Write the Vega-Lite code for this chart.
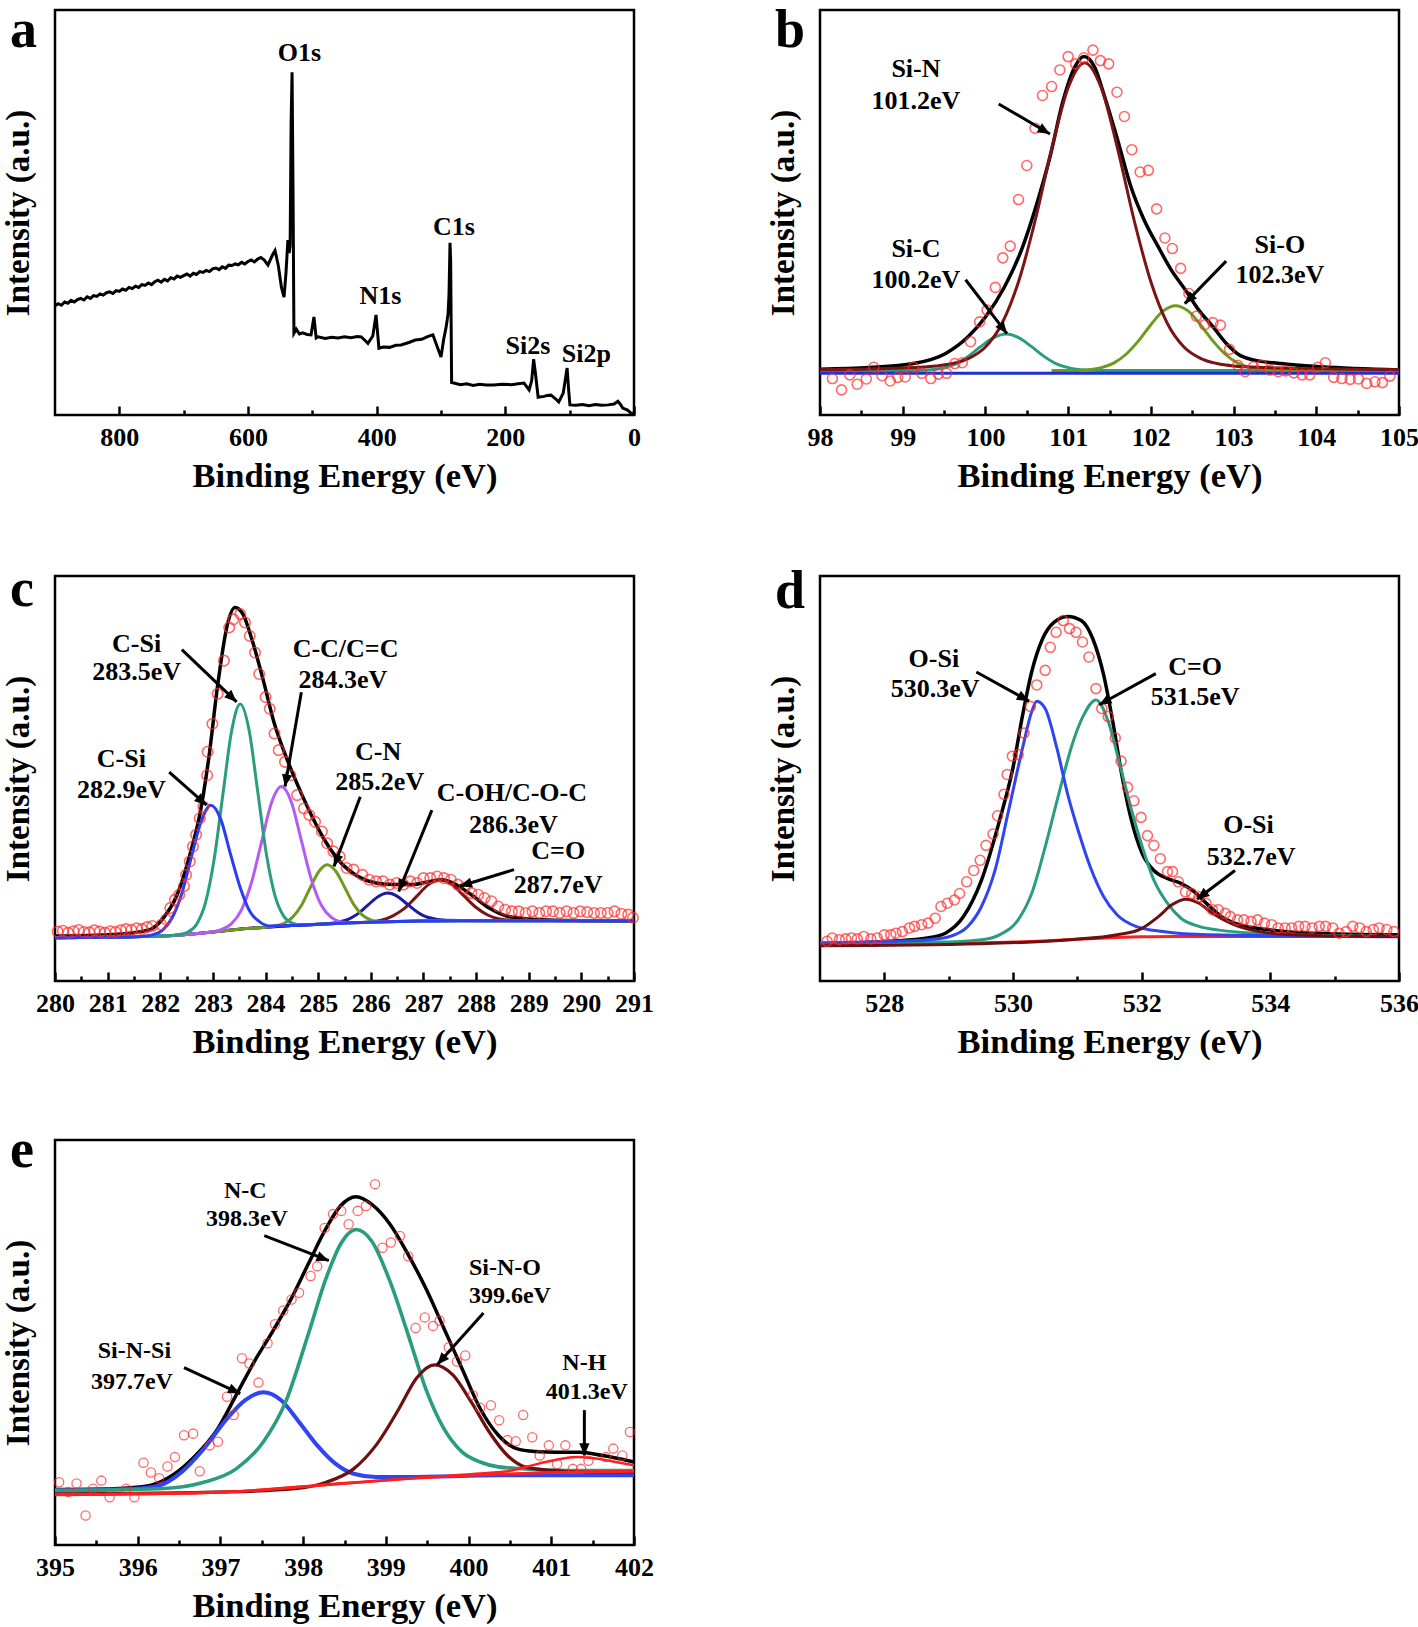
{
"$schema": "https://vega.github.io/schema/vega-lite/v6.json",
"background": "white",
"padding": {"left": 0, "top": 2, "right": 0, "bottom": 0},
"config": {
  "font": "Liberation Serif",
  "view": {"stroke": "black", "strokeWidth": 2.5},
  "axis": {"grid": false, "domain": false, "labelFont": "Liberation Serif", "labelFontSize": 26, "labelFontWeight": "bold", "labelColor": "black", "titleFont": "Liberation Serif", "titleFontSize": 33, "titleFontWeight": "bold", "titleColor": "black", "tickColor": "black", "tickWidth": 2.5, "labelOverlap": false},
  "axisX": {"labelFlush": false, "labelPadding": 18, "titlePadding": 5, "titleFontSize": 34.5, "format": "d"},
  "axisY": {"labels": false, "ticks": false, "titlePadding": 20},
  "title": {"font": "Liberation Serif", "fontSize": 54, "fontWeight": "bold", "anchor": "start", "frame": "group", "baseline": "alphabetic", "color": "black", "dx": -45},
  "text": {"font": "Liberation Serif", "fontSize": 26, "fontWeight": "bold", "color": "black"}
},
"spacing": 62,
"resolve": {"scale": {"x": "independent", "y": "independent", "color": "independent", "strokeWidth": "independent"}},
"vconcat": [
 {"spacing": 67,
  "resolve": {"scale": {"x": "independent", "y": "independent", "color": "independent", "strokeWidth": "independent"}},
  "vconcat": [
 {"hconcat": [
  {"width": 579, "height": 405,
   "title": {"text": "a", "offset": -48},
   "encoding": {
     "x": {"field": "E", "type": "quantitative", "scale": {"domain": [0, 900], "reverse": true, "nice": false, "zero": false},
       "axis": {"title": "Binding Energy (eV)", "values": [0,100,200,300,400,500,600,700,800], "labelExpr": "datum.value % 200 === 0 ? datum.label : ''", "tickSize": {"condition": {"test": "datum.value % 200 === 0", "value": -9}, "value": -5}}},
     "y": {"field": "I", "type": "quantitative", "scale": {"domain": [0, 100], "nice": false, "zero": false}, "axis": {"title": "Intensity (a.u.)"}}
   },
   "layer": [
    {"data": {"values": [
      {"E":900,"I":27.0},{"E":895,"I":27.5},{"E":890,"I":27.1},{"E":885,"I":27.9},{"E":880,"I":27.6},{"E":875,"I":28.3},{"E":870,"I":27.9},{"E":865,"I":28.5},{"E":860,"I":28.8},{"E":855,"I":28.4},{"E":850,"I":29.2},{"E":845,"I":28.8},{"E":840,"I":29.5},{"E":835,"I":29.3},{"E":830,"I":29.9},{"E":825,"I":29.6},{"E":820,"I":30.2},{"E":815,"I":30.4},{"E":810,"I":30.0},{"E":805,"I":30.7},{"E":800,"I":30.5},{"E":795,"I":31.1},{"E":790,"I":30.8},{"E":785,"I":31.5},{"E":780,"I":31.2},{"E":775,"I":31.8},{"E":770,"I":31.5},{"E":765,"I":32.2},{"E":760,"I":32.0},{"E":755,"I":32.6},{"E":750,"I":32.2},{"E":745,"I":32.9},{"E":740,"I":33.3},{"E":735,"I":32.8},{"E":730,"I":33.5},{"E":725,"I":33.1},{"E":720,"I":33.9},{"E":715,"I":33.6},{"E":710,"I":34.3},{"E":705,"I":34.0},{"E":700,"I":34.4},{"E":695,"I":34.8},{"E":690,"I":34.3},{"E":685,"I":35.0},{"E":680,"I":34.7},{"E":675,"I":35.4},{"E":670,"I":35.2},{"E":665,"I":35.7},{"E":660,"I":35.4},{"E":655,"I":36.1},{"E":650,"I":36.3},{"E":645,"I":35.9},{"E":640,"I":36.6},{"E":635,"I":36.2},{"E":630,"I":37.0},{"E":625,"I":36.9},{"E":620,"I":37.3},{"E":615,"I":37.1},{"E":610,"I":37.7},{"E":605,"I":37.3},{"E":600,"I":37.9},{"E":595,"I":38.3},{"E":590,"I":37.8},{"E":585,"I":38.5},{"E":580,"I":38.9},{"E":575,"I":38.3},{"E":569,"I":37.0},{"E":562,"I":39.5},{"E":558,"I":40.6},{"E":553,"I":37.0},{"E":548,"I":31.5},{"E":544,"I":29.1},{"E":541,"I":35.0},{"E":538,"I":43.2},{"E":536,"I":40.0},{"E":534.5,"I":42.0},{"E":533,"I":72.0},{"E":531.5,"I":84.6},{"E":530,"I":55.0},{"E":528.6,"I":20.2},{"E":525,"I":21.2},{"E":520,"I":20.0},{"E":515,"I":20.3},{"E":508,"I":19.9},{"E":502,"I":19.8},{"E":497.5,"I":24.2},{"E":494,"I":19.0},{"E":491,"I":19.3},{"E":480,"I":18.9},{"E":470,"I":19.2},{"E":460,"I":19.0},{"E":450,"I":19.3},{"E":440,"I":19.1},{"E":430,"I":19.4},{"E":424,"I":19.3},{"E":418,"I":18.4},{"E":413.6,"I":17.7},{"E":406,"I":19.5},{"E":401,"I":24.7},{"E":396.5,"I":16.5},{"E":390,"I":16.8},{"E":380,"I":16.7},{"E":370,"I":17.2},{"E":362,"I":17.3},{"E":350,"I":17.9},{"E":340,"I":18.5},{"E":330,"I":18.7},{"E":320,"I":19.4},{"E":312.6,"I":19.8},{"E":305,"I":16.5},{"E":300,"I":14.3},{"E":296,"I":18.5},{"E":292,"I":21.7},{"E":289,"I":25.0},{"E":287.5,"I":30.0},{"E":286,"I":42.5},{"E":285,"I":38.0},{"E":283.5,"I":8.0},{"E":280,"I":7.9},{"E":270,"I":7.5},{"E":260,"I":7.7},{"E":250,"I":7.3},{"E":240,"I":7.6},{"E":230,"I":7.4},{"E":218,"I":7.4},{"E":205,"I":7.6},{"E":190,"I":7.5},{"E":180,"I":7.7},{"E":171,"I":7.9},{"E":163,"I":6.2},{"E":159,"I":8.5},{"E":156,"I":13.8},{"E":153,"I":10.0},{"E":149,"I":4.4},{"E":140,"I":4.6},{"E":135,"I":4.8},{"E":129,"I":4.9},{"E":122,"I":4.0},{"E":117,"I":3.2},{"E":112,"I":4.8},{"E":110,"I":5.4},{"E":104,"I":11.6},{"E":101.5,"I":6.0},{"E":99.6,"I":2.5},{"E":90,"I":2.4},{"E":80,"I":2.6},{"E":70,"I":2.3},{"E":60,"I":2.6},{"E":50,"I":2.4},{"E":40,"I":2.5},{"E":31,"I":2.7},{"E":25,"I":3.4},{"E":21,"I":2.6},{"E":17.5,"I":1.7},{"E":10,"I":1.2},{"E":5,"I":0.5},{"E":0,"I":0.3}
     ]},
     "mark": {"type": "line", "color": "black", "strokeWidth": 3}},
    {"data": {"values": [
      {"E":520,"I":89.5,"t":"O1s"},{"E":394,"I":29.3,"t":"N1s"},{"E":280,"I":46.3,"t":"C1s"},{"E":165,"I":17.0,"t":"Si2s"},{"E":74,"I":15.0,"t":"Si2p"}
     ]},
     "mark": {"type": "text"},
     "encoding": {"text": {"field": "t"}}}
   ]
  },
  {"width": 579, "height": 405,
   "title": {"text": "b", "offset": -48},
   "encoding": {
     "x": {"field": "E", "type": "quantitative", "scale": {"domain": [98, 105], "nice": false, "zero": false},
       "axis": {"title": "Binding Energy (eV)", "values": [98,98.5,99,99.5,100,100.5,101,101.5,102,102.5,103,103.5,104,104.5,105], "labelExpr": "datum.value % 1 === 0 ? datum.label : ''", "tickSize": {"condition": {"test": "datum.value % 1 === 0", "value": -9}, "value": -5}}},
     "y": {"field": "I", "type": "quantitative", "scale": {"domain": [0, 100], "nice": false, "zero": false}, "axis": {"title": "Intensity (a.u.)"}}
   },
   "layer": [
    {"data": {"values": [
      {"E":98,"I":11.3},{"E":98.59,"I":11.7},{"E":99.13,"I":12.7},{"E":99.52,"I":15.2},{"E":99.79,"I":19.3},{"E":100.0,"I":24.2},{"E":100.23,"I":31.6},{"E":100.45,"I":41.5},{"E":100.61,"I":51.4},{"E":100.78,"I":63.7},{"E":100.94,"I":77.7},{"E":101.08,"I":85.9},{"E":101.19,"I":88.5},{"E":101.32,"I":85.9},{"E":101.43,"I":79.3},{"E":101.6,"I":67.8},{"E":101.76,"I":56.3},{"E":101.92,"I":48.1},{"E":102.09,"I":41.5},{"E":102.25,"I":35.7},{"E":102.42,"I":30.8},{"E":102.58,"I":25.9},{"E":102.75,"I":21.8},{"E":102.91,"I":17.7},{"E":103.07,"I":14.8},{"E":103.24,"I":13.6},{"E":103.57,"I":12.7},{"E":104.06,"I":11.9},{"E":105,"I":11.1}
     ]},
     "mark": {"type": "line", "color": "black", "strokeWidth": 3.5, "interpolate": "monotone"}},
    {"data": {"values": [
      {"s":"SiC","E":98,"I":11},{"s":"SiC","E":99.15,"I":11},{"s":"SiC","E":99.35,"I":11.2},{"s":"SiC","E":99.5,"I":11.7},{"s":"SiC","E":99.65,"I":12.7},{"s":"SiC","E":99.8,"I":14.6},{"s":"SiC","E":99.95,"I":17.0},{"s":"SiC","E":100.1,"I":19.1},{"s":"SiC","E":100.25,"I":20.0},{"s":"SiC","E":100.4,"I":19.1},{"s":"SiC","E":100.55,"I":17.0},{"s":"SiC","E":100.7,"I":14.6},{"s":"SiC","E":100.85,"I":12.7},{"s":"SiC","E":101.0,"I":11.7},{"s":"SiC","E":101.15,"I":11.2},{"s":"SiC","E":101.35,"I":11.0},{"s":"SiC","E":105,"I":11.0},
      {"s":"SiO","E":100.8,"I":11},{"s":"SiO","E":101.1,"I":11},{"s":"SiO","E":101.25,"I":11.2},{"s":"SiO","E":101.4,"I":11.7},{"s":"SiO","E":101.55,"I":12.8},{"s":"SiO","E":101.7,"I":15.0},{"s":"SiO","E":101.85,"I":18.3},{"s":"SiO","E":102.0,"I":22.3},{"s":"SiO","E":102.15,"I":25.7},{"s":"SiO","E":102.3,"I":27.0},{"s":"SiO","E":102.45,"I":25.7},{"s":"SiO","E":102.6,"I":22.3},{"s":"SiO","E":102.75,"I":18.3},{"s":"SiO","E":102.9,"I":15.0},{"s":"SiO","E":103.05,"I":12.8},{"s":"SiO","E":103.2,"I":11.7},{"s":"SiO","E":103.35,"I":11.2},{"s":"SiO","E":103.6,"I":11.0},{"s":"SiO","E":105,"I":11.0},
      {"s":"SiN","E":98,"I":11.2},{"s":"SiN","E":99,"I":11.6},{"s":"SiN","E":99.4,"I":12.1},{"s":"SiN","E":99.6,"I":12.7},{"s":"SiN","E":99.8,"I":14.0},{"s":"SiN","E":100.0,"I":16.8},{"s":"SiN","E":100.2,"I":22.6},{"s":"SiN","E":100.4,"I":32.9},{"s":"SiN","E":100.6,"I":47.9},{"s":"SiN","E":100.8,"I":65.6},{"s":"SiN","E":101.0,"I":80.8},{"s":"SiN","E":101.2,"I":87.0},{"s":"SiN","E":101.4,"I":80.8},{"s":"SiN","E":101.6,"I":65.6},{"s":"SiN","E":101.8,"I":47.9},{"s":"SiN","E":102.0,"I":32.9},{"s":"SiN","E":102.2,"I":22.6},{"s":"SiN","E":102.4,"I":16.8},{"s":"SiN","E":102.6,"I":14.0},{"s":"SiN","E":102.8,"I":12.7},{"s":"SiN","E":103.0,"I":12.1},{"s":"SiN","E":103.4,"I":11.7},{"s":"SiN","E":104,"I":11.4},{"s":"SiN","E":105,"I":11.2},
      {"s":"bg","E":98,"I":10.3},{"s":"bg","E":105,"I":10.3}
     ]},
     "mark": {"type": "line", "interpolate": "monotone"},
     "encoding": {
       "color": {"field": "s", "type": "nominal", "scale": {"domain": ["SiC","SiO","SiN","bg"], "range": ["#2a9d80","#6d9a1f","#7a1515","#1e2fd0"]}, "legend": null},
       "strokeWidth": {"field": "s", "type": "nominal", "scale": {"domain": ["SiC","SiO","SiN","bg"], "range": [3, 3, 3, 5]}, "legend": null}}},
    {"data": {"values": [
      {"E":98.15,"I":9.0},{"E":98.26,"I":6.2},{"E":98.36,"I":9.9},{"E":98.45,"I":7.6},{"E":98.56,"I":8.9},{"E":98.65,"I":11.8},{"E":98.75,"I":9.7},{"E":98.85,"I":8.4},{"E":98.94,"I":9.3},{"E":99.03,"I":9.4},{"E":99.13,"I":11.8},{"E":99.23,"I":10.3},{"E":99.34,"I":9.0},{"E":99.43,"I":10.1},{"E":99.53,"I":10.3},{"E":99.63,"I":12.7},{"E":99.72,"I":12.9},{"E":99.82,"I":18.1},{"E":99.93,"I":23.0},{"E":100.02,"I":25.9},{"E":100.12,"I":31.5},{"E":100.21,"I":38.8},{"E":100.30,"I":41.7},{"E":100.40,"I":53.2},{"E":100.5,"I":61.6},{"E":100.6,"I":70.8},{"E":100.69,"I":78.9},{"E":100.8,"I":81.1},{"E":100.9,"I":85.2},{"E":101.0,"I":88.5},{"E":101.09,"I":86.7},{"E":101.19,"I":88.2},{"E":101.3,"I":90.1},{"E":101.39,"I":87.5},{"E":101.49,"I":86.7},{"E":101.59,"I":79.7},{"E":101.68,"I":73.7},{"E":101.77,"I":65.5},{"E":101.87,"I":60.0},{"E":101.97,"I":60.4},{"E":102.07,"I":50.9},{"E":102.17,"I":43.7},{"E":102.26,"I":41.1},{"E":102.36,"I":36.2},{"E":102.46,"I":30.0},{"E":102.55,"I":24.4},{"E":102.65,"I":22.3},{"E":102.75,"I":22.8},{"E":102.84,"I":22.2},{"E":102.95,"I":16.2},{"E":103.05,"I":12.3},{"E":103.14,"I":10.7},{"E":103.24,"I":11.9},{"E":103.34,"I":12.3},{"E":103.44,"I":11.1},{"E":103.54,"I":10.7},{"E":103.63,"I":10.9},{"E":103.73,"I":10.4},{"E":103.83,"I":9.9},{"E":103.92,"I":9.9},{"E":104.02,"I":11.8},{"E":104.11,"I":12.9},{"E":104.21,"I":9.3},{"E":104.31,"I":9.0},{"E":104.41,"I":8.8},{"E":104.51,"I":8.9},{"E":104.61,"I":7.8},{"E":104.71,"I":8.2},{"E":104.80,"I":8.0},{"E":104.89,"I":9.6}
     ]},
     "mark": {"type": "point", "shape": "circle", "filled": false, "color": "#ff2b2b", "strokeWidth": 1.6, "size": 100}},
    {"data": {"values": [
      {"E":100.16,"I":76.8,"E2":100.78,"I2":69.4,"ang":120.3},{"E":99.76,"I":33.4,"E2":100.26,"I2":20.1,"ang":142.5},{"E":102.91,"I":38.0,"E2":102.41,"I2":27.5,"ang":224.2}
     ]},
     "layer": [
      {"mark": {"type": "rule", "color": "black", "strokeWidth": 3}, "encoding": {"x2": {"field": "E2"}, "y2": {"field": "I2"}}},
      {"mark": {"type": "point", "shape": "M0,0L-0.42,1L0.42,1Z", "filled": true, "color": "black", "opacity": 1, "size": 600}, "encoding": {"x": {"field": "E2", "type": "quantitative"}, "y": {"field": "I2", "type": "quantitative"}, "angle": {"field": "ang", "type": "quantitative", "scale": null}}}
     ]},
    {"data": {"values": [
      {"E":99.16,"I":85.5,"t":"Si-N"},{"E":99.16,"I":77.6,"t":"101.2eV"},{"E":99.16,"I":41.1,"t":"Si-C"},{"E":99.16,"I":33.3,"t":"100.2eV"},{"E":103.56,"I":41.9,"t":"Si-O"},{"E":103.56,"I":34.5,"t":"102.3eV"}
     ]},
     "mark": {"type": "text"},
     "encoding": {"text": {"field": "t"}}}
   ]
  }
 ], "spacing": 186, "bounds": "flush", "resolve": {"scale": {"x": "independent", "y": "independent", "color": "independent", "strokeWidth": "independent"}}},
 {"hconcat": [
  {"width": 579, "height": 405,
   "title": {"text": "c", "offset": -41},
   "encoding": {
     "x": {"field": "E", "type": "quantitative", "scale": {"domain": [280, 291], "nice": false, "zero": false},
       "axis": {"title": "Binding Energy (eV)", "values": [280,280.5,281,281.5,282,282.5,283,283.5,284,284.5,285,285.5,286,286.5,287,287.5,288,288.5,289,289.5,290,290.5,291], "labelExpr": "datum.value % 1 === 0 ? datum.label : ''", "tickSize": {"condition": {"test": "datum.value % 1 === 0", "value": -9}, "value": -5}}},
     "y": {"field": "I", "type": "quantitative", "scale": {"domain": [0, 100], "nice": false, "zero": false}, "axis": {"title": "Intensity (a.u.)"}}
   },
   "layer": [
    {"data": {"values": [
      {"E":280,"I":11.1},{"E":281.12,"I":11.5},{"E":281.8,"I":12.7},{"E":282.06,"I":15.6},{"E":282.32,"I":21.3},{"E":282.58,"I":32.0},{"E":282.75,"I":41.0},{"E":282.92,"I":54.9},{"E":283.09,"I":73.0},{"E":283.27,"I":87.7},{"E":283.42,"I":92.2},{"E":283.57,"I":90.6},{"E":283.74,"I":84.4},{"E":283.95,"I":74.6},{"E":284.16,"I":63.9},{"E":284.38,"I":55.7},{"E":284.64,"I":47.5},{"E":284.9,"I":40.2},{"E":285.16,"I":34.0},{"E":285.41,"I":29.5},{"E":285.76,"I":25.8},{"E":286.1,"I":24.2},{"E":286.45,"I":23.8},{"E":286.79,"I":23.8},{"E":287.13,"I":24.6},{"E":287.35,"I":25.0},{"E":287.56,"I":24.2},{"E":287.91,"I":21.3},{"E":288.25,"I":18.0},{"E":288.59,"I":16.0},{"E":289.11,"I":15.2},{"E":289.97,"I":14.9},{"E":291,"I":14.8}
     ]},
     "mark": {"type": "line", "color": "black", "strokeWidth": 3.5, "interpolate": "monotone"}},
    {"data": {"values": [
      {"s":"CO","E":280,"I":10.7},{"s":"CO","E":281,"I":10.8},{"s":"CO","E":282,"I":11.1},{"s":"CO","E":282.5,"I":11.5},{"s":"CO","E":283,"I":12.1},{"s":"CO","E":283.5,"I":12.8},{"s":"CO","E":284,"I":13.3},{"s":"CO","E":284.5,"I":13.7},{"s":"CO","E":285,"I":14.0},{"s":"CO","E":285.5,"I":14.3},{"s":"CO","E":285.97,"I":14.6},{"s":"CO","E":286.2,"I":15.0},{"s":"CO","E":286.42,"I":16.1},{"s":"CO","E":286.645,"I":18.0},{"s":"CO","E":286.87,"I":20.9},{"s":"CO","E":287.095,"I":23.8},{"s":"CO","E":287.32,"I":25.0},{"s":"CO","E":287.545,"I":23.8},{"s":"CO","E":287.77,"I":21.0},{"s":"CO","E":287.995,"I":18.2},{"s":"CO","E":288.22,"I":16.3},{"s":"CO","E":288.445,"I":15.3},{"s":"CO","E":288.67,"I":15.0},{"s":"CO","E":291,"I":14.9},
      {"s":"COH","E":280,"I":10.7},{"s":"COH","E":281,"I":10.8},{"s":"COH","E":282,"I":11.1},{"s":"COH","E":282.5,"I":11.5},{"s":"COH","E":283,"I":12.1},{"s":"COH","E":283.5,"I":12.8},{"s":"COH","E":284,"I":13.3},{"s":"COH","E":284.5,"I":13.7},{"s":"COH","E":285.21,"I":14.2},{"s":"COH","E":285.395,"I":14.6},{"s":"COH","E":285.58,"I":15.3},{"s":"COH","E":285.765,"I":16.7},{"s":"COH","E":285.95,"I":18.8},{"s":"COH","E":286.135,"I":20.8},{"s":"COH","E":286.32,"I":21.7},{"s":"COH","E":286.505,"I":20.9},{"s":"COH","E":286.69,"I":19.0},{"s":"COH","E":286.875,"I":17.1},{"s":"COH","E":287.06,"I":15.8},{"s":"COH","E":287.43,"I":15.0},{"s":"COH","E":288,"I":14.9},{"s":"COH","E":291,"I":14.9},
      {"s":"CN","E":280,"I":10.7},{"s":"CN","E":281,"I":10.8},{"s":"CN","E":282,"I":11.1},{"s":"CN","E":282.5,"I":11.5},{"s":"CN","E":283,"I":12.1},{"s":"CN","E":283.5,"I":12.8},{"s":"CN","E":284,"I":13.3},{"s":"CN","E":284.18,"I":13.6},{"s":"CN","E":284.345,"I":14.2},{"s":"CN","E":284.51,"I":15.7},{"s":"CN","E":284.675,"I":18.5},{"s":"CN","E":284.84,"I":22.8},{"s":"CN","E":285.005,"I":26.9},{"s":"CN","E":285.17,"I":28.7},{"s":"CN","E":285.335,"I":27.1},{"s":"CN","E":285.5,"I":23.2},{"s":"CN","E":285.665,"I":19.1},{"s":"CN","E":285.83,"I":16.4},{"s":"CN","E":285.995,"I":15.1},{"s":"CN","E":286.16,"I":14.7},{"s":"CN","E":286.5,"I":14.7},{"s":"CN","E":287,"I":14.8},{"s":"CN","E":288,"I":14.9},{"s":"CN","E":291,"I":14.9},
      {"s":"CC","E":280,"I":10.7},{"s":"CC","E":281,"I":10.8},{"s":"CC","E":282,"I":11.1},{"s":"CC","E":282.5,"I":11.5},{"s":"CC","E":282.97,"I":12.1},{"s":"CC","E":283.16,"I":12.7},{"s":"CC","E":283.35,"I":14.1},{"s":"CC","E":283.54,"I":17.5},{"s":"CC","E":283.73,"I":24.2},{"s":"CC","E":283.92,"I":34.1},{"s":"CC","E":284.11,"I":43.9},{"s":"CC","E":284.3,"I":48.0},{"s":"CC","E":284.49,"I":44.2},{"s":"CC","E":284.68,"I":34.7},{"s":"CC","E":284.87,"I":25.1},{"s":"CC","E":285.06,"I":18.7},{"s":"CC","E":285.25,"I":15.7},{"s":"CC","E":285.44,"I":14.6},{"s":"CC","E":285.63,"I":14.4},{"s":"CC","E":286,"I":14.5},{"s":"CC","E":286.5,"I":14.7},{"s":"CC","E":287,"I":14.8},{"s":"CC","E":288,"I":14.9},{"s":"CC","E":291,"I":14.9},
      {"s":"CSi2","E":280,"I":10.7},{"s":"CSi2","E":281,"I":10.8},{"s":"CSi2","E":282,"I":11.1},{"s":"CSi2","E":282.365,"I":11.5},{"s":"CSi2","E":282.53,"I":12.1},{"s":"CSi2","E":282.695,"I":14.1},{"s":"CSi2","E":282.86,"I":19.4},{"s":"CSi2","E":283.025,"I":30.2},{"s":"CSi2","E":283.19,"I":46.1},{"s":"CSi2","E":283.355,"I":61.7},{"s":"CSi2","E":283.52,"I":68.4},{"s":"CSi2","E":283.685,"I":62.1},{"s":"CSi2","E":283.85,"I":46.9},{"s":"CSi2","E":284.015,"I":31.4},{"s":"CSi2","E":284.18,"I":21.0},{"s":"CSi2","E":284.345,"I":16.0},{"s":"CSi2","E":284.51,"I":14.3},{"s":"CSi2","E":284.675,"I":13.9},{"s":"CSi2","E":285,"I":14.0},{"s":"CSi2","E":285.5,"I":14.3},{"s":"CSi2","E":286,"I":14.5},{"s":"CSi2","E":286.5,"I":14.7},{"s":"CSi2","E":287,"I":14.8},{"s":"CSi2","E":288,"I":14.9},{"s":"CSi2","E":291,"I":14.9},
      {"s":"CSi1","E":280,"I":10.7},{"s":"CSi1","E":281,"I":10.8},{"s":"CSi1","E":281.66,"I":11.0},{"s":"CSi1","E":281.85,"I":11.4},{"s":"CSi1","E":282.04,"I":12.5},{"s":"CSi1","E":282.22,"I":15.5},{"s":"CSi1","E":282.41,"I":21.6},{"s":"CSi1","E":282.59,"I":30.6},{"s":"CSi1","E":282.78,"I":39.5},{"s":"CSi1","E":282.96,"I":43.4},{"s":"CSi1","E":283.15,"I":39.9},{"s":"CSi1","E":283.33,"I":31.5},{"s":"CSi1","E":283.52,"I":23.0},{"s":"CSi1","E":283.7,"I":17.2},{"s":"CSi1","E":283.89,"I":14.6},{"s":"CSi1","E":284.07,"I":13.6},{"s":"CSi1","E":284.26,"I":13.65},{"s":"CSi1","E":284.5,"I":13.7},{"s":"CSi1","E":285,"I":14.0},{"s":"CSi1","E":285.5,"I":14.3},{"s":"CSi1","E":286,"I":14.5},{"s":"CSi1","E":286.5,"I":14.7},{"s":"CSi1","E":287,"I":14.8},{"s":"CSi1","E":288,"I":14.9},{"s":"CSi1","E":291,"I":14.9}
     ]},
     "mark": {"type": "line", "strokeWidth": 3, "interpolate": "monotone"},
     "encoding": {"color": {"field": "s", "type": "nominal", "scale": {"domain": ["CO","COH","CN","CC","CSi2","CSi1"], "range": ["#7a1515","#1b1ba0","#6d9a1f","#b45cf2","#2a9d80","#2a3cf5"]}, "legend": null}}},
    {"data": {"values": [
      {"E":280.05,"I":12.2},{"E":280.15,"I":12.4},{"E":280.25,"I":11.9},{"E":280.35,"I":12.3},{"E":280.45,"I":12.6},{"E":280.55,"I":12.1},{"E":280.65,"I":12.0},{"E":280.75,"I":12.5},{"E":280.85,"I":12.2},{"E":280.95,"I":11.9},{"E":281.05,"I":12.3},{"E":281.15,"I":12.1},{"E":281.25,"I":12.5},{"E":281.35,"I":12.8},{"E":281.45,"I":12.6},{"E":281.55,"I":13.0},{"E":281.65,"I":12.8},{"E":281.75,"I":13.3},{"E":281.85,"I":13.6},{"E":282.02,"I":13.9},{"E":282.11,"I":15.2},{"E":282.19,"I":18.0},{"E":282.28,"I":20.1},{"E":282.36,"I":21.3},{"E":282.45,"I":23.4},{"E":282.49,"I":26.2},{"E":282.56,"I":29.5},{"E":282.62,"I":33.2},{"E":282.68,"I":36.1},{"E":282.75,"I":40.2},{"E":282.82,"I":43.0},{"E":282.89,"I":50.8},{"E":282.9,"I":56.6},{"E":282.99,"I":63.5},{"E":283.09,"I":70.9},{"E":283.21,"I":79.1},{"E":283.31,"I":87.3},{"E":283.39,"I":89.3},{"E":283.52,"I":90.6},{"E":283.61,"I":88.5},{"E":283.7,"I":85.2},{"E":283.8,"I":81.1},{"E":283.88,"I":75.8},{"E":284.0,"I":70.1},{"E":284.08,"I":67.2},{"E":284.17,"I":61.1},{"E":284.25,"I":57.0},{"E":284.37,"I":54.1},{"E":284.47,"I":50.8},{"E":284.6,"I":45.9},{"E":284.73,"I":42.6},{"E":284.83,"I":41.0},{"E":284.94,"I":39.3},{"E":285.07,"I":36.9},{"E":285.17,"I":34.0},{"E":285.29,"I":32.0},{"E":285.41,"I":30.7},{"E":285.54,"I":27.9},{"E":285.67,"I":27.5},{"E":285.84,"I":26.2},{"E":285.97,"I":25.0},{"E":286.1,"I":24.6},{"E":286.23,"I":24.6},{"E":286.36,"I":23.8},{"E":286.49,"I":24.2},{"E":286.62,"I":23.8},{"E":286.75,"I":24.6},{"E":286.88,"I":24.2},{"E":287.0,"I":25.4},{"E":287.13,"I":25.4},{"E":287.26,"I":25.8},{"E":287.39,"I":25.4},{"E":287.52,"I":25.0},{"E":287.65,"I":23.8},{"E":287.78,"I":23.0},{"E":287.91,"I":21.7},{"E":288.04,"I":21.3},{"E":288.16,"I":20.5},{"E":288.29,"I":19.7},{"E":288.42,"I":18.4},{"E":288.55,"I":17.6},{"E":288.68,"I":17.2},{"E":288.81,"I":17.2},{"E":288.94,"I":16.8},{"E":289.07,"I":17.2},{"E":289.2,"I":16.8},{"E":289.33,"I":17.2},{"E":289.46,"I":17.2},{"E":289.59,"I":16.8},{"E":289.72,"I":17.2},{"E":289.85,"I":16.8},{"E":289.98,"I":17.2},{"E":290.11,"I":17.0},{"E":290.24,"I":16.8},{"E":290.37,"I":16.8},{"E":290.5,"I":16.8},{"E":290.63,"I":17.2},{"E":290.76,"I":16.6},{"E":290.89,"I":16.4},{"E":290.98,"I":15.6}
     ]},
     "mark": {"type": "point", "shape": "circle", "filled": false, "color": "#ff2b2b", "strokeWidth": 1.6, "size": 110}},
    {"data": {"values": [
      {"E":282.41,"I":81.8,"E2":283.45,"I2":68.9,"ang":133.7},{"E":284.68,"I":71.3,"E2":284.37,"I2":48.0,"ang":189.8},{"E":282.17,"I":51.6,"E2":282.88,"I2":43.4,"ang":131.7},{"E":285.8,"I":45.5,"E2":285.3,"I2":28.3,"ang":200.7},{"E":287.16,"I":42.2,"E2":286.53,"I2":22.1,"ang":202.1},{"E":288.72,"I":27.5,"E2":287.69,"I2":23.4,"ang":253}
     ]},
     "layer": [
      {"mark": {"type": "rule", "color": "black", "strokeWidth": 3}, "encoding": {"x2": {"field": "E2"}, "y2": {"field": "I2"}}},
      {"mark": {"type": "point", "shape": "M0,0L-0.42,1L0.42,1Z", "filled": true, "color": "black", "opacity": 1, "size": 600}, "encoding": {"x": {"field": "E2", "type": "quantitative"}, "y": {"field": "I2", "type": "quantitative"}, "angle": {"field": "ang", "type": "quantitative", "scale": null}}}
     ]},
    {"data": {"values": [
      {"E":281.55,"I":83.2,"t":"C-Si"},{"E":281.55,"I":76.2,"t":"283.5eV"},{"E":285.52,"I":82.0,"t":"C-C/C=C"},{"E":285.47,"I":74.2,"t":"284.3eV"},{"E":281.26,"I":54.9,"t":"C-Si"},{"E":281.26,"I":47.1,"t":"282.9eV"},{"E":286.14,"I":56.6,"t":"C-N"},{"E":286.17,"I":49.2,"t":"285.2eV"},{"E":288.68,"I":46.3,"t":"C-OH/C-O-C"},{"E":288.71,"I":38.5,"t":"286.3eV"},{"E":289.56,"I":32.0,"t":"C=O"},{"E":289.56,"I":23.8,"t":"287.7eV"}
     ]},
     "mark": {"type": "text"},
     "encoding": {"text": {"field": "t"}}}
   ]
  },
  {"width": 579, "height": 405,
   "title": {"text": "d", "offset": -43},
   "encoding": {
     "x": {"field": "E", "type": "quantitative", "scale": {"domain": [527, 536], "nice": false, "zero": false},
       "axis": {"title": "Binding Energy (eV)", "values": [528,529,530,531,532,533,534,535,536], "labelExpr": "datum.value % 2 === 0 ? datum.label : ''", "tickSize": {"condition": {"test": "datum.value % 2 === 0", "value": -9}, "value": -5}}},
     "y": {"field": "I", "type": "quantitative", "scale": {"domain": [0, 100], "nice": false, "zero": false}, "axis": {"title": "Intensity (a.u.)"}}
   },
   "layer": [
    {"data": {"values": [
      {"E":527,"I":9.2},{"E":528.1,"I":9.8},{"E":528.67,"I":10.6},{"E":528.95,"I":11.8},{"E":529.23,"I":15.9},{"E":529.51,"I":24.9},{"E":529.79,"I":39.6},{"E":530.0,"I":52.7},{"E":530.15,"I":65.7},{"E":530.29,"I":76.3},{"E":530.46,"I":84.5},{"E":530.64,"I":88.6},{"E":530.85,"I":90.0},{"E":531.06,"I":89.0},{"E":531.24,"I":84.5},{"E":531.41,"I":75.5},{"E":531.55,"I":64.1},{"E":531.69,"I":51.0},{"E":531.83,"I":40.4},{"E":532.01,"I":31.4},{"E":532.19,"I":27.3},{"E":532.4,"I":25.3},{"E":532.61,"I":24.1},{"E":532.82,"I":22.0},{"E":533.03,"I":18.8},{"E":533.24,"I":15.9},{"E":533.52,"I":13.9},{"E":533.95,"I":12.7},{"E":534.65,"I":11.8},{"E":536,"I":11.4}
     ]},
     "mark": {"type": "line", "color": "black", "strokeWidth": 3.5, "interpolate": "monotone"}},
    {"data": {"values": [
      {"s":"bg","E":527,"I":9.0},{"s":"bg","E":528,"I":9.1},{"s":"bg","E":529,"I":9.3},{"s":"bg","E":530,"I":9.6},{"s":"bg","E":530.5,"I":9.9},{"s":"bg","E":531,"I":10.3},{"s":"bg","E":531.5,"I":10.7},{"s":"bg","E":532,"I":10.9},{"s":"bg","E":532.5,"I":11.0},{"s":"bg","E":536,"I":11.0},
      {"s":"CO","E":527,"I":9.4},{"s":"CO","E":528.81,"I":9.6},{"s":"CO","E":529.51,"I":10.2},{"s":"CO","E":529.79,"I":11.4},{"s":"CO","E":530.08,"I":15.1},{"s":"CO","E":530.29,"I":21.6},{"s":"CO","E":530.5,"I":33.1},{"s":"CO","E":530.71,"I":46.1},{"s":"CO","E":530.92,"I":58.4},{"s":"CO","E":531.1,"I":65.7},{"s":"CO","E":531.29,"I":69.4},{"s":"CO","E":531.48,"I":64.1},{"s":"CO","E":531.66,"I":53.5},{"s":"CO","E":531.83,"I":42.9},{"s":"CO","E":532.01,"I":33.1},{"s":"CO","E":532.19,"I":24.9},{"s":"CO","E":532.4,"I":19.2},{"s":"CO","E":532.61,"I":15.5},{"s":"CO","E":532.89,"I":13.5},{"s":"CO","E":533.24,"I":12.5},{"s":"CO","E":533.73,"I":11.8},{"s":"CO","E":534.44,"I":11.4},{"s":"CO","E":536,"I":11.0},
      {"s":"OSi1","E":527,"I":9.4},{"s":"OSi1","E":528.1,"I":9.8},{"s":"OSi1","E":528.67,"I":10.2},{"s":"OSi1","E":529.02,"I":11.0},{"s":"OSi1","E":529.3,"I":13.5},{"s":"OSi1","E":529.51,"I":18.4},{"s":"OSi1","E":529.72,"I":27.3},{"s":"OSi1","E":529.93,"I":42.0},{"s":"OSi1","E":530.15,"I":57.6},{"s":"OSi1","E":530.29,"I":66.5},{"s":"OSi1","E":530.37,"I":69.1},{"s":"OSi1","E":530.5,"I":67.3},{"s":"OSi1","E":530.68,"I":57.6},{"s":"OSi1","E":530.85,"I":46.1},{"s":"OSi1","E":531.03,"I":36.3},{"s":"OSi1","E":531.2,"I":28.2},{"s":"OSi1","E":531.41,"I":20.8},{"s":"OSi1","E":531.62,"I":16.3},{"s":"OSi1","E":531.91,"I":13.5},{"s":"OSi1","E":532.33,"I":12.2},{"s":"OSi1","E":533.03,"I":11.4},{"s":"OSi1","E":536,"I":10.9},
      {"s":"OSi2","E":527,"I":8.7},{"s":"OSi2","E":529.5,"I":9.2},{"s":"OSi2","E":530.9,"I":10.2},{"s":"OSi2","E":531.62,"I":11.4},{"s":"OSi2","E":531.98,"I":12.8},{"s":"OSi2","E":532.26,"I":15.9},{"s":"OSi2","E":532.47,"I":18.8},{"s":"OSi2","E":532.69,"I":20.2},{"s":"OSi2","E":532.89,"I":19.2},{"s":"OSi2","E":533.1,"I":16.7},{"s":"OSi2","E":533.38,"I":14.3},{"s":"OSi2","E":533.73,"I":12.5},{"s":"OSi2","E":534.16,"I":11.6},{"s":"OSi2","E":534.79,"I":11.2},{"s":"OSi2","E":536,"I":11.0}
     ]},
     "mark": {"type": "line", "strokeWidth": 3, "interpolate": "monotone"},
     "encoding": {"color": {"field": "s", "type": "nominal", "scale": {"domain": ["bg","CO","OSi1","OSi2"], "range": ["#ff1f1f","#2a9d80","#2f45f0","#6e1010"]}, "legend": null}}},
    {"data": {"values": [
      {"E":527.11,"I":9.8},{"E":527.19,"I":10.6},{"E":527.3,"I":10.2},{"E":527.4,"I":10.4},{"E":527.49,"I":10.6},{"E":527.58,"I":10.4},{"E":527.68,"I":11.0},{"E":527.79,"I":10.4},{"E":527.89,"I":10.6},{"E":528.0,"I":11.4},{"E":528.1,"I":11.4},{"E":528.18,"I":11.8},{"E":528.28,"I":12.2},{"E":528.39,"I":13.1},{"E":528.47,"I":13.5},{"E":528.58,"I":13.9},{"E":528.68,"I":14.3},{"E":528.79,"I":15.5},{"E":528.88,"I":18.4},{"E":528.98,"I":19.2},{"E":529.09,"I":20.0},{"E":529.17,"I":21.6},{"E":529.28,"I":24.5},{"E":529.39,"I":27.3},{"E":529.49,"I":29.8},{"E":529.58,"I":33.5},{"E":529.69,"I":36.3},{"E":529.76,"I":40.8},{"E":529.86,"I":46.1},{"E":529.91,"I":51.0},{"E":529.99,"I":55.5},{"E":530.08,"I":55.9},{"E":530.17,"I":61.2},{"E":530.27,"I":67.8},{"E":530.37,"I":73.1},{"E":530.5,"I":76.7},{"E":530.58,"I":82.4},{"E":530.67,"I":86.1},{"E":530.78,"I":89.0},{"E":530.88,"I":87.0},{"E":530.98,"I":86.1},{"E":531.08,"I":83.7},{"E":531.18,"I":80.0},{"E":531.29,"I":72.2},{"E":531.38,"I":67.3},{"E":531.48,"I":65.3},{"E":531.59,"I":60.0},{"E":531.68,"I":54.3},{"E":531.78,"I":47.8},{"E":531.88,"I":44.5},{"E":531.99,"I":40.4},{"E":532.09,"I":35.9},{"E":532.19,"I":33.5},{"E":532.29,"I":30.2},{"E":532.4,"I":27.0},{"E":532.48,"I":27.0},{"E":532.57,"I":24.5},{"E":532.68,"I":22.0},{"E":532.78,"I":21.6},{"E":532.89,"I":20.8},{"E":533.0,"I":19.2},{"E":533.1,"I":17.6},{"E":533.19,"I":17.6},{"E":533.3,"I":16.7},{"E":533.38,"I":15.9},{"E":533.49,"I":15.1},{"E":533.59,"I":15.1},{"E":533.7,"I":14.7},{"E":533.8,"I":15.1},{"E":533.91,"I":14.3},{"E":534.02,"I":13.9},{"E":534.12,"I":13.1},{"E":534.23,"I":13.1},{"E":534.33,"I":13.1},{"E":534.44,"I":13.5},{"E":534.54,"I":13.5},{"E":534.65,"I":13.1},{"E":534.76,"I":13.5},{"E":534.86,"I":13.5},{"E":534.97,"I":13.1},{"E":535.07,"I":11.8},{"E":535.18,"I":12.2},{"E":535.28,"I":13.5},{"E":535.39,"I":13.1},{"E":535.49,"I":12.2},{"E":535.6,"I":12.7},{"E":535.69,"I":13.1},{"E":535.81,"I":12.7},{"E":535.92,"I":12.2}
     ]},
     "mark": {"type": "point", "shape": "circle", "filled": false, "color": "#ff2b2b", "strokeWidth": 1.6, "size": 100}},
    {"data": {"values": [
      {"E":529.43,"I":76.3,"E2":530.25,"I2":69.1,"ang":119},{"E":532.22,"I":75.9,"E2":531.34,"I2":68.2,"ang":241.1},{"E":533.45,"I":27.3,"E2":532.86,"I2":20.2,"ang":232.8}
     ]},
     "layer": [
      {"mark": {"type": "rule", "color": "black", "strokeWidth": 3}, "encoding": {"x2": {"field": "E2"}, "y2": {"field": "I2"}}},
      {"mark": {"type": "point", "shape": "M0,0L-0.42,1L0.42,1Z", "filled": true, "color": "black", "opacity": 1, "size": 600}, "encoding": {"x": {"field": "E2", "type": "quantitative"}, "y": {"field": "I2", "type": "quantitative"}, "angle": {"field": "ang", "type": "quantitative", "scale": null}}}
     ]},
    {"data": {"values": [
      {"E":528.77,"I":79.6,"t":"O-Si"},{"E":528.79,"I":72.2,"t":"530.3eV"},{"E":532.83,"I":77.6,"t":"C=O"},{"E":532.83,"I":70.2,"t":"531.5eV"},{"E":533.66,"I":38.4,"t":"O-Si"},{"E":533.7,"I":30.6,"t":"532.7eV"}
     ]},
     "mark": {"type": "text"},
     "encoding": {"text": {"field": "t"}}}
   ]
  }
 ], "spacing": 186, "bounds": "flush", "resolve": {"scale": {"x": "independent", "y": "independent", "color": "independent", "strokeWidth": "independent"}}}
 ]},
 {"width": 579, "height": 405,
   "title": {"text": "e", "offset": -38},
   "encoding": {
     "x": {"field": "E", "type": "quantitative", "scale": {"domain": [395, 402], "nice": false, "zero": false},
       "axis": {"title": "Binding Energy (eV)", "values": [395,395.5,396,396.5,397,397.5,398,398.5,399,399.5,400,400.5,401,401.5,402], "labelExpr": "datum.value % 1 === 0 ? datum.label : ''", "tickSize": {"condition": {"test": "datum.value % 1 === 0", "value": -9}, "value": -5}}},
     "y": {"field": "I", "type": "quantitative", "scale": {"domain": [0, 100], "nice": false, "zero": false}, "axis": {"title": "Intensity (a.u.)"}}
   },
   "layer": [
    {"data": {"values": [
      {"E":395,"I":13.7},{"E":395.71,"I":13.9},{"E":396.15,"I":14.7},{"E":396.42,"I":17.2},{"E":396.7,"I":22.1},{"E":396.97,"I":28.8},{"E":397.19,"I":37.0},{"E":397.41,"I":45.3},{"E":397.63,"I":52.7},{"E":397.84,"I":60.2},{"E":398.06,"I":69.3},{"E":398.28,"I":78.3},{"E":398.45,"I":83.7},{"E":398.64,"I":86.0},{"E":398.83,"I":84.1},{"E":399.05,"I":79.2},{"E":399.27,"I":71.7},{"E":399.48,"I":63.5},{"E":399.7,"I":53.6},{"E":399.92,"I":43.6},{"E":400.14,"I":33.7},{"E":400.36,"I":27.1},{"E":400.58,"I":23.8},{"E":400.8,"I":23.1},{"E":401.07,"I":22.9},{"E":401.34,"I":22.9},{"E":401.62,"I":22.1},{"E":402,"I":20.5}
     ]},
     "mark": {"type": "line", "color": "black", "strokeWidth": 3.5, "interpolate": "monotone"}},
    {"data": {"values": [
      {"s":"SiNSi","E":395,"I":13.5},{"s":"SiNSi","E":395.98,"I":13.9},{"s":"SiNSi","E":396.26,"I":14.7},{"s":"SiNSi","E":396.53,"I":18.0},{"s":"SiNSi","E":396.8,"I":23.8},{"s":"SiNSi","E":397.08,"I":31.2},{"s":"SiNSi","E":397.3,"I":35.8},{"s":"SiNSi","E":397.52,"I":37.7},{"s":"SiNSi","E":397.73,"I":35.8},{"s":"SiNSi","E":397.95,"I":30.4},{"s":"SiNSi","E":398.17,"I":24.6},{"s":"SiNSi","E":398.39,"I":20.1},{"s":"SiNSi","E":398.61,"I":17.6},{"s":"SiNSi","E":398.88,"I":16.8},{"s":"SiNSi","E":399.27,"I":16.8},{"s":"SiNSi","E":400.36,"I":17.2},{"s":"SiNSi","E":402,"I":17.2},
      {"s":"NC","E":395,"I":13.5},{"s":"NC","E":396.26,"I":13.9},{"s":"NC","E":396.8,"I":15.5},{"s":"NC","E":397.19,"I":18.8},{"s":"NC","E":397.52,"I":25.5},{"s":"NC","E":397.79,"I":35.4},{"s":"NC","E":398.06,"I":51.9},{"s":"NC","E":398.28,"I":66.0},{"s":"NC","E":398.45,"I":74.2},{"s":"NC","E":398.64,"I":77.9},{"s":"NC","E":398.83,"I":75.0},{"s":"NC","E":399.05,"I":65.1},{"s":"NC","E":399.27,"I":51.9},{"s":"NC","E":399.48,"I":38.7},{"s":"NC","E":399.7,"I":28.8},{"s":"NC","E":399.92,"I":23.0},{"s":"NC","E":400.14,"I":20.5},{"s":"NC","E":400.36,"I":19.3},{"s":"NC","E":400.68,"I":18.8},{"s":"NC","E":401.18,"I":18.4},{"s":"NC","E":402,"I":18.4},
      {"s":"SiNO","E":395,"I":12.6},{"s":"SiNO","E":397.08,"I":13.1},{"s":"SiNO","E":397.9,"I":13.9},{"s":"SiNO","E":398.28,"I":15.5},{"s":"SiNO","E":398.61,"I":18.8},{"s":"SiNO","E":398.88,"I":24.6},{"s":"SiNO","E":399.16,"I":33.7},{"s":"SiNO","E":399.37,"I":41.2},{"s":"SiNO","E":399.59,"I":44.5},{"s":"SiNO","E":399.81,"I":42.0},{"s":"SiNO","E":400.03,"I":35.4},{"s":"SiNO","E":400.25,"I":27.9},{"s":"SiNO","E":400.47,"I":22.1},{"s":"SiNO","E":400.68,"I":19.3},{"s":"SiNO","E":401.01,"I":18.4},{"s":"SiNO","E":401.45,"I":18.0},{"s":"SiNO","E":402,"I":18.0},
      {"s":"bg","E":395,"I":12.4},{"s":"bg","E":397.08,"I":13.1},{"s":"bg","E":398.17,"I":14.7},{"s":"bg","E":399.27,"I":16.4},{"s":"bg","E":400.36,"I":17.5},{"s":"bg","E":401,"I":17.9},{"s":"bg","E":402,"I":18.2},
      {"s":"NH","E":395,"I":12.4},{"s":"NH","E":395.98,"I":12.6},{"s":"NH","E":397.08,"I":13.1},{"s":"NH","E":398.17,"I":14.7},{"s":"NH","E":399.27,"I":16.4},{"s":"NH","E":400.09,"I":17.6},{"s":"NH","E":400.52,"I":18.4},{"s":"NH","E":400.85,"I":20.1},{"s":"NH","E":401.13,"I":21.3},{"s":"NH","E":401.32,"I":21.7},{"s":"NH","E":401.56,"I":21.3},{"s":"NH","E":401.78,"I":20.5},{"s":"NH","E":402,"I":19.7}
     ]},
     "mark": {"type": "line", "interpolate": "monotone"},
     "encoding": {
       "color": {"field": "s", "type": "nominal", "scale": {"domain": ["SiNSi","NC","SiNO","bg","NH"], "range": ["#2f45f0","#2a9d80","#6e1010","#ff1f1f","#ff1f1f"]}, "legend": null},
       "strokeWidth": {"field": "s", "type": "nominal", "scale": {"domain": ["SiNSi","NC","SiNO","bg","NH"], "range": [4, 2.5, 3, 4.5, 4.5]}, "legend": null}}},
    {"data": {"values": [
      {"E":395.05,"I":15.5},{"E":395.16,"I":13.1},{"E":395.26,"I":15.2},{"E":395.37,"I":7.3},{"E":395.46,"I":13.9},{"E":395.56,"I":15.9},{"E":395.66,"I":11.8},{"E":395.86,"I":13.9},{"E":395.96,"I":11.8},{"E":396.07,"I":20.3},{"E":396.16,"I":17.9},{"E":396.26,"I":16.5},{"E":396.36,"I":19.4},{"E":396.45,"I":21.7},{"E":396.56,"I":27.1},{"E":396.67,"I":27.5},{"E":396.75,"I":18.2},{"E":396.87,"I":24.6},{"E":396.97,"I":25.5},{"E":397.08,"I":36.6},{"E":397.16,"I":32.1},{"E":397.26,"I":46.1},{"E":397.35,"I":44.8},{"E":397.46,"I":40.1},{"E":397.57,"I":49.8},{"E":397.66,"I":54.5},{"E":397.76,"I":57.9},{"E":397.86,"I":60.6},{"E":397.95,"I":62.3},{"E":398.09,"I":66.4},{"E":398.17,"I":68.8},{"E":398.26,"I":78.3},{"E":398.36,"I":81.7},{"E":398.46,"I":82.5},{"E":398.55,"I":79.2},{"E":398.66,"I":82.5},{"E":398.76,"I":83.7},{"E":398.87,"I":89.1},{"E":398.96,"I":73.4},{"E":399.06,"I":74.7},{"E":399.17,"I":76.3},{"E":399.27,"I":71.3},{"E":399.36,"I":53.6},{"E":399.47,"I":56.2},{"E":399.57,"I":54.1},{"E":399.65,"I":55.4},{"E":399.76,"I":48.8},{"E":399.86,"I":45.3},{"E":399.96,"I":46.8},{"E":400.05,"I":37.0},{"E":400.14,"I":33.9},{"E":400.27,"I":34.5},{"E":400.37,"I":30.8},{"E":400.47,"I":25.9},{"E":400.57,"I":25.6},{"E":400.66,"I":32.1},{"E":400.77,"I":26.6},{"E":400.86,"I":22.1},{"E":400.97,"I":24.6},{"E":401.07,"I":20.0},{"E":401.17,"I":24.6},{"E":401.26,"I":18.8},{"E":401.36,"I":18.8},{"E":401.45,"I":20.8},{"E":401.66,"I":21.7},{"E":401.75,"I":23.8},{"E":401.86,"I":22.1},{"E":401.95,"I":27.9}
     ]},
     "mark": {"type": "point", "shape": "circle", "filled": false, "color": "#ff2b2b", "strokeWidth": 1.3, "size": 85}},
    {"data": {"values": [
      {"E":397.53,"I":76.4,"E2":398.31,"I2":70.2,"ang":111.3},{"E":400.18,"I":57.3,"E2":399.62,"I2":44.5,"ang":221.8},{"E":396.56,"I":43.8,"E2":397.24,"I2":37.4,"ang":114.7},{"E":401.4,"I":33.3,"E2":401.4,"I2":22.1,"ang":180}
     ]},
     "layer": [
      {"mark": {"type": "rule", "color": "black", "strokeWidth": 3}, "encoding": {"x2": {"field": "E2"}, "y2": {"field": "I2"}}},
      {"mark": {"type": "point", "shape": "M0,0L-0.42,1L0.42,1Z", "filled": true, "color": "black", "opacity": 1, "size": 600}, "encoding": {"x": {"field": "E2", "type": "quantitative"}, "y": {"field": "I2", "type": "quantitative"}, "angle": {"field": "ang", "type": "quantitative", "scale": null}}}
     ]},
    {"data": {"values": [
      {"E":397.3,"I":87.4,"t":"N-C"},{"E":397.32,"I":80.4,"t":"398.3eV"},{"E":400.44,"I":68.4,"t":"Si-N-O"},{"E":400.5,"I":61.4,"t":"399.6eV"},{"E":395.96,"I":47.8,"t":"Si-N-Si"},{"E":395.93,"I":40.3,"t":"397.7eV"},{"E":401.4,"I":44.9,"t":"N-H"},{"E":401.43,"I":37.9,"t":"401.3eV"}
     ]},
     "mark": {"type": "text", "fontSize": 24},
     "encoding": {"text": {"field": "t"}}}
   ]
 }
]
}
